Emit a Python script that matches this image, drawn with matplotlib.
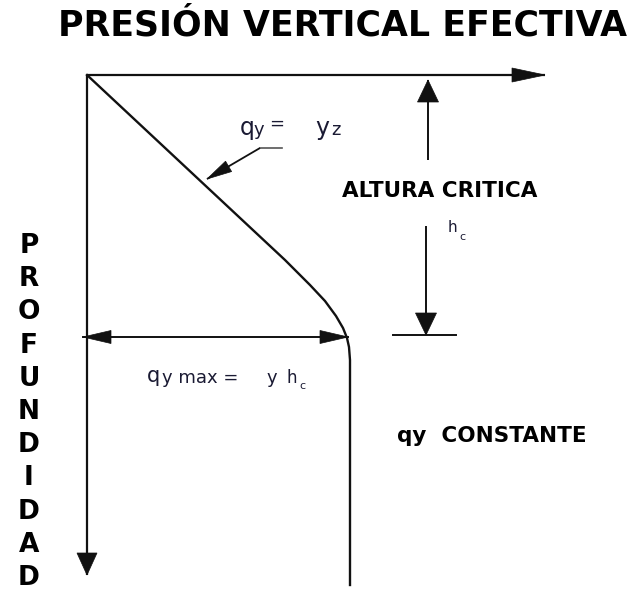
import numpy as np
import matplotlib
matplotlib.use("Agg")
import matplotlib.pyplot as plt

# ---------------- data (diagram units: q = pressure to the right, z = depth downwards) -------------
curve_q = [0, 198, 223, 238, 249, 256, 260, 262, 263, 263]
curve_z = [0, 185, 210, 226, 241, 253, 263, 272, 285, 510]

title = "PRESIÓN VERTICAL EFECTIVA"
depth_label = "PROFUNDIDAD"
crit_label = "ALTURA CRITICA"
const_label = "qy  CONSTANTE"

# ---------------- figure ----------------
fig = plt.figure(figsize=(6.43, 5.93), dpi=100)
ax = fig.add_axes([0, 0, 1, 1])
ax.set_xlim(-87, 556)
ax.set_ylim(518, -75)
ax.axis("off")

LC = "#111111"
TC = "#1a1a33"


def head(tip, tail, length, hw, color=LC):
    tip = np.asarray(tip, float)
    tail = np.asarray(tail, float)
    d = (tip - tail) / np.linalg.norm(tip - tail)
    p = np.array([-d[1], d[0]])
    base = tip - d * length
    pts = np.array([tip, base + p * hw, base - p * hw])
    ax.fill(pts[:, 0], pts[:, 1], color=color, lw=0.5, ec=color, zorder=4)


def arrow(tail, tip, length, hw, lw=1.4):
    ax.plot([tail[0], tip[0]], [tail[1], tip[1]], color=LC, lw=lw, solid_capstyle="butt")
    head(tip, tail, length, hw)


# axes of the diagram
arrow((0, 0), (458, 0), 33, 7, lw=1.6)
arrow((0, 0), (0, 500), 22, 10, lw=1.6)

# pressure curve
ax.plot(curve_q, curve_z, color=LC, lw=1.7, solid_joinstyle="round")

# critical height arrows
arrow((341, 85), (341, 5), 22, 10.5)
arrow((339, 151), (339, 260), 22, 10.5)
ax.plot([306, 369], [260, 260], color=LC, lw=1.4)

# q max double arrow
ax.plot([-4, 261], [262, 262], color=LC, lw=1.4)
head((-4, 262), (261, 262), 28, 6.5)
head((261, 262), (-4, 262), 28, 6.5)

# leader for q = yz
ax.plot([195, 173], [73, 73], color="#555555", lw=1.2)
arrow((173, 73), (120, 104), 25, 6, lw=1.3)

# ---------------- texts ----------------
ax.text(256, -40, title, ha="center", va="baseline", fontsize=25,
        fontweight="bold", color="black")

for i, ch in enumerate(depth_label):
    ax.text(-58, 171 + 33.2 * i, ch, ha="center", va="center", fontsize=19,
            fontweight="bold", color="black")

ax.text(353, 122, crit_label, ha="center", va="baseline", fontsize=15.5,
        fontweight="bold", color="black")
ax.text(361, 157, "h", ha="left", va="baseline", fontsize=11, color=TC)
ax.text(372, 165, "c", ha="left", va="baseline", fontsize=8, color=TC)

ax.text(310, 367, const_label, ha="left", va="baseline", fontsize=15.5,
        fontweight="bold", color="black")

# q y = y z
ax.text(153, 60, "q", ha="left", va="baseline", fontsize=17, color=TC)
ax.text(167, 60, "y", ha="left", va="baseline", fontsize=13, color=TC)
ax.text(182, 54, "=", ha="left", va="baseline", fontsize=13, color=TC)
ax.text(228, 60, "y", ha="left", va="baseline", fontsize=17, color=TC)
ax.text(244, 60, "z", ha="left", va="baseline", fontsize=13, color=TC)

# q y max = y hc
ax.text(60, 307, "q", ha="left", va="baseline", fontsize=15, color=TC)
ax.text(75, 308, "y max =", ha="left", va="baseline", fontsize=13, color=TC)
ax.text(180, 308, "y", ha="left", va="baseline", fontsize=13, color=TC)
ax.text(200, 308, "h", ha="left", va="baseline", fontsize=12, color=TC)
ax.text(212, 314, "c", ha="left", va="baseline", fontsize=8, color=TC)

fig.savefig("out.png", dpi=100, facecolor="white")
